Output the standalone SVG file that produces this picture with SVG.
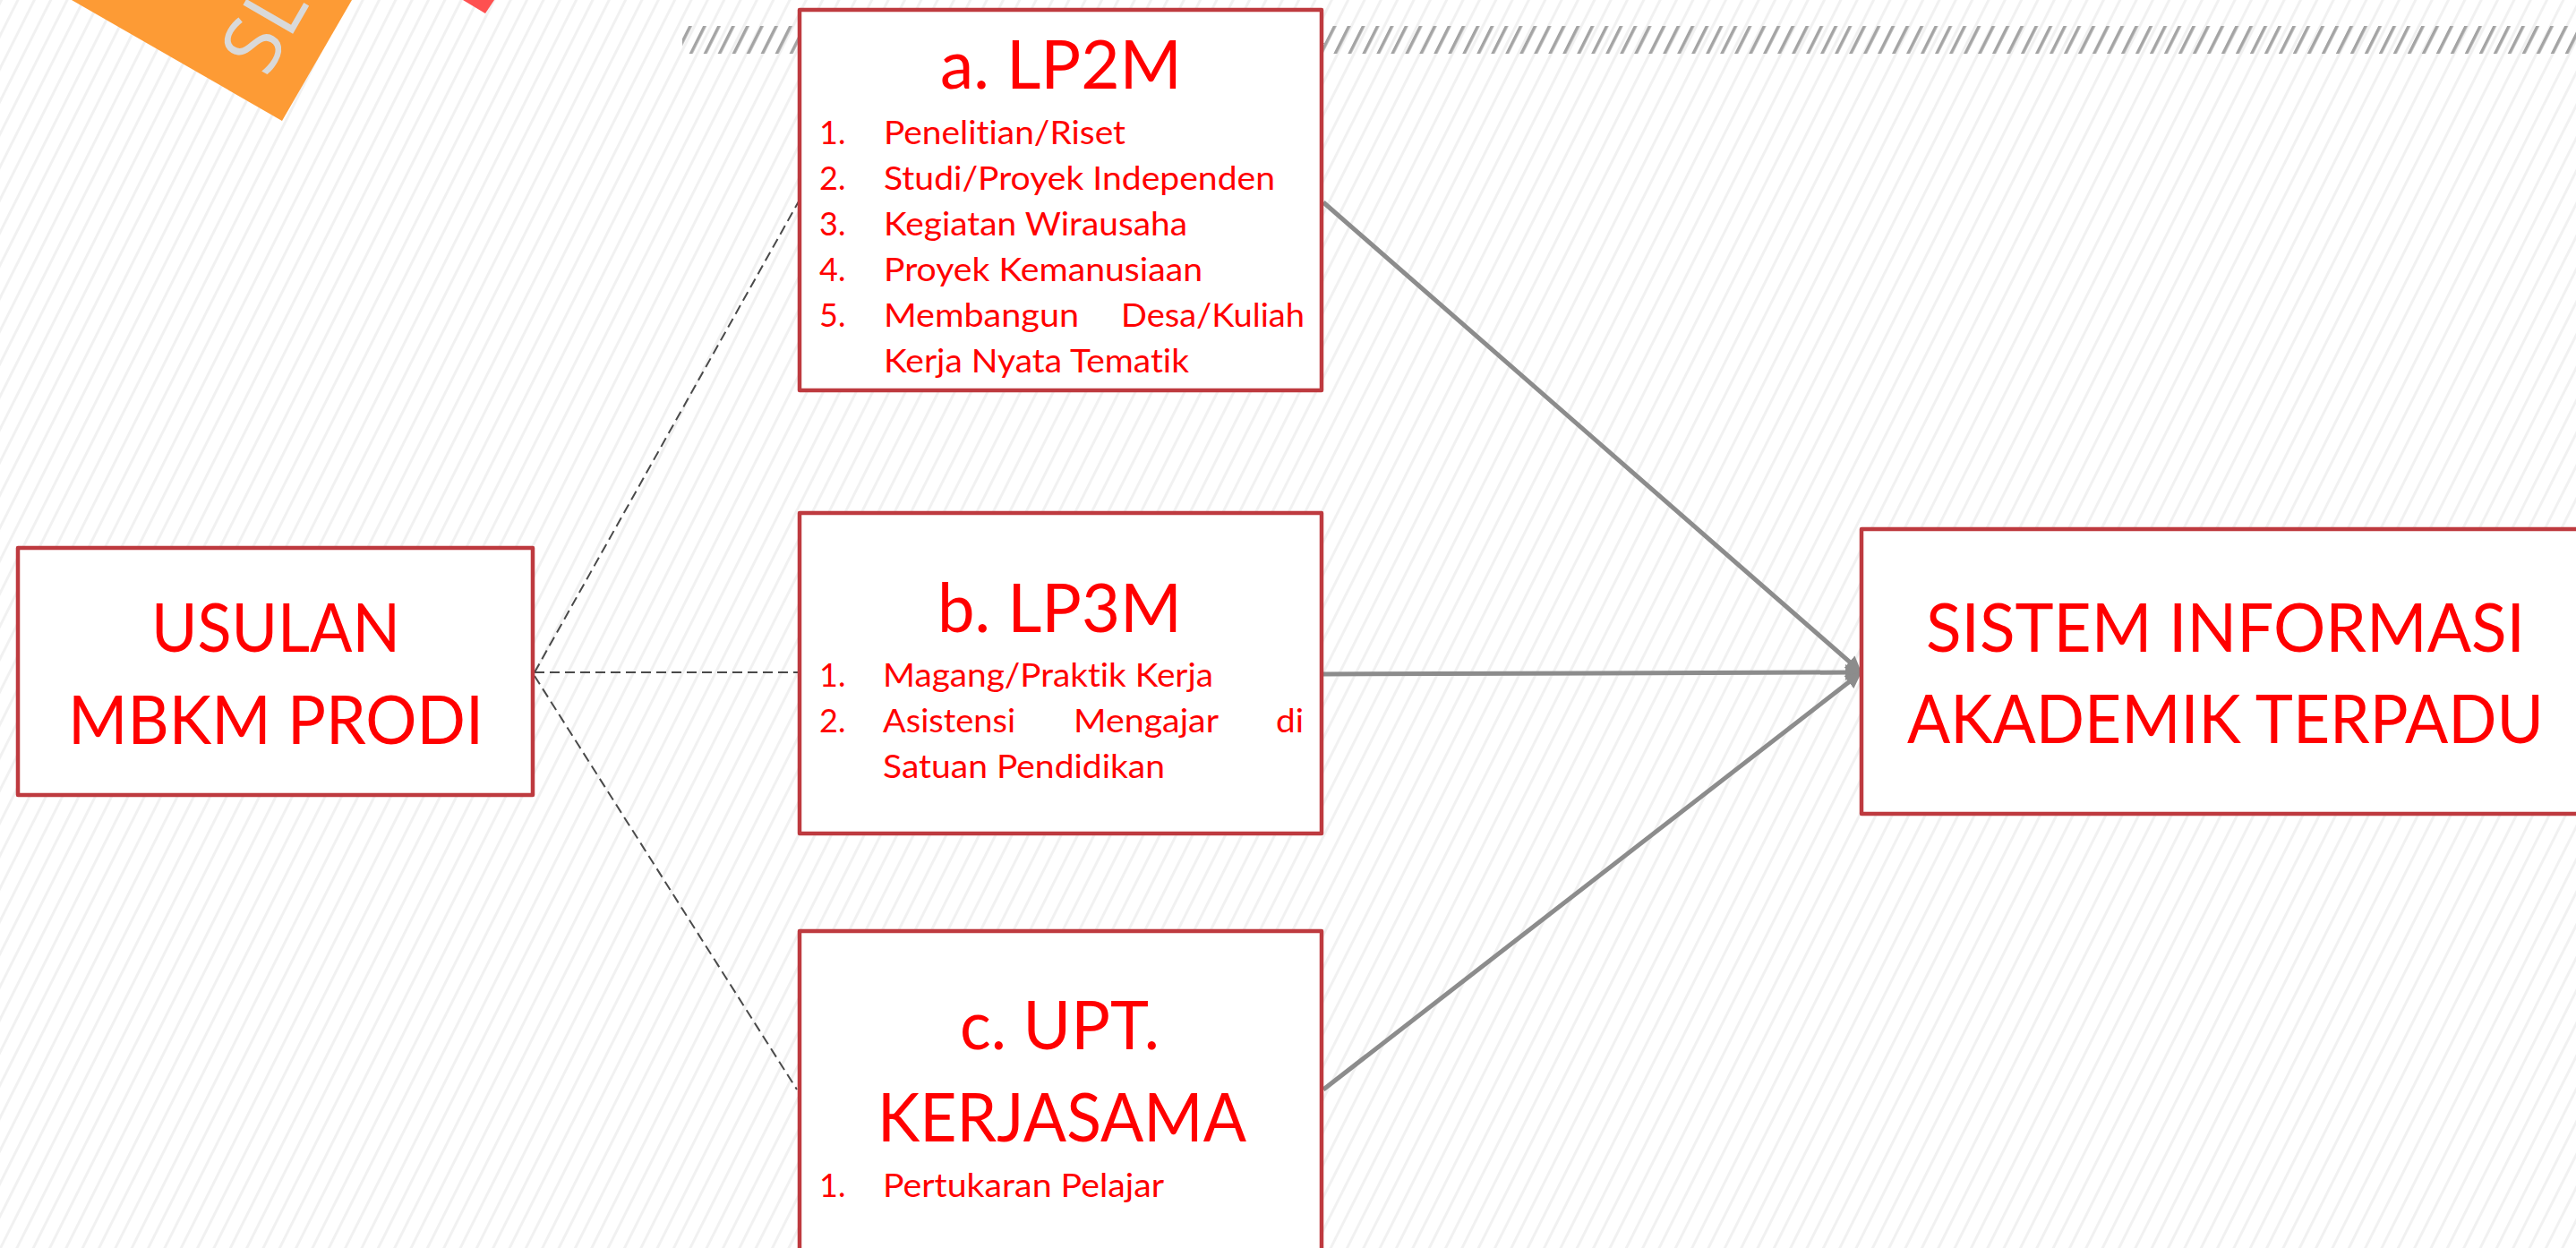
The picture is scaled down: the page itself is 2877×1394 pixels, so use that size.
<svg xmlns="http://www.w3.org/2000/svg" width="2877" height="1394" viewBox="0 0 2877 1394">
  <defs>
    <pattern id="bg" patternUnits="userSpaceOnUse" width="16.4" height="20" patternTransform="rotate(26.6)">
      <rect x="0" y="0" width="3" height="20" fill="#f1f1f1"/>
    </pattern>
    <pattern id="band" patternUnits="userSpaceOnUse" width="14.3" height="20" patternTransform="rotate(26.6)">
      <rect x="0" y="0" width="3.5" height="20" fill="#a4a4a4"/>
    </pattern>
    <marker id="arrow" viewBox="0 0 10 10" refX="4.4" refY="5" markerWidth="3.6" markerHeight="3.6" orient="auto">
      <path d="M0,0 L10,5 L0,10 Z" fill="#8c8c8c"/>
    </marker>
    <style>
      .box { fill: #ffffff; stroke: #be3a3f; stroke-width: 4.5; stroke-linejoin: round; }
      .t { font-family: Lato, "Liberation Sans", sans-serif; fill: #ff0000; font-variant-ligatures: none; font-feature-settings: "liga" 0, "clig" 0; }
      .big { font-size: 75px; }
      .item { font-size: 36px; }
      .dash { stroke: #4a4a4a; stroke-width: 2; stroke-dasharray: 11 6; fill: none; }
      .arr { stroke: #8c8c8c; stroke-width: 5; fill: none; marker-end: url(#arrow); }
    </style>
  </defs>

  <rect x="0" y="0" width="2877" height="1394" fill="#ffffff"/>
  <rect x="0" y="0" width="2877" height="1394" fill="url(#bg)"/>
  <rect x="762" y="29" width="2115" height="31" fill="url(#band)"/>

  <g id="decor">
    <polygon points="80,0 393,0 315,135" fill="#fd9b35"/>
    <text x="298" y="88" transform="rotate(-60 298 88)" font-family="'Open Sans', Lato, sans-serif" font-size="90" fill="#d9d9d9">SL</text>
    <polygon points="517,0 552,0 542,15" fill="#fe5050"/>
  </g>

  <g id="connectors">
    <line class="dash" x1="597" y1="751" x2="892" y2="225"/>
    <line class="dash" x1="597" y1="751" x2="891" y2="751"/>
    <line class="dash" x1="597" y1="755" x2="890" y2="1217"/>
    <line class="arr" x1="1478" y1="226" x2="2071.5" y2="744.4"/>
    <line class="arr" x1="1478" y1="753" x2="2069" y2="751"/>
    <line class="arr" x1="1478" y1="1217" x2="2071.1" y2="757.1"/>
  </g>

  <g id="usulan">
    <rect class="box" x="20" y="612" width="575" height="276"/>
    <text class="t big" x="169" y="728" textLength="278" lengthAdjust="spacingAndGlyphs">USULAN</text>
    <text class="t big" x="76" y="831" textLength="464" lengthAdjust="spacingAndGlyphs">MBKM PRODI</text>
  </g>

  <g id="lp2m">
    <rect class="box" x="893" y="11" width="583" height="425"/>
    <text class="t big" x="1050" y="99" textLength="270" lengthAdjust="spacingAndGlyphs">a. LP2M</text>
    <text class="t item" x="915" y="161">1.</text>
    <text class="t item" x="987" y="161" textLength="270" lengthAdjust="spacingAndGlyphs">Penelitian/Riset</text>
    <text class="t item" x="915" y="212">2.</text>
    <text class="t item" x="987" y="212" textLength="437" lengthAdjust="spacingAndGlyphs">Studi/Proyek Independen</text>
    <text class="t item" x="915" y="263">3.</text>
    <text class="t item" x="987" y="263" textLength="339" lengthAdjust="spacingAndGlyphs">Kegiatan Wirausaha</text>
    <text class="t item" x="915" y="314">4.</text>
    <text class="t item" x="987" y="314" textLength="356" lengthAdjust="spacingAndGlyphs">Proyek Kemanusiaan</text>
    <text class="t item" x="915" y="365">5.</text>
    <text class="t item" x="987" y="365" textLength="218" lengthAdjust="spacingAndGlyphs">Membangun</text>
    <text class="t item" x="1252" y="365" textLength="205" lengthAdjust="spacingAndGlyphs">Desa/Kuliah</text>
    <text class="t item" x="987" y="416" textLength="341" lengthAdjust="spacingAndGlyphs">Kerja Nyata Tematik</text>
  </g>

  <g id="lp3m">
    <rect class="box" x="893" y="573" width="583" height="358"/>
    <text class="t big" x="1047" y="706" textLength="273" lengthAdjust="spacingAndGlyphs">b. LP3M</text>
    <text class="t item" x="915" y="767">1.</text>
    <text class="t item" x="986" y="767" textLength="369" lengthAdjust="spacingAndGlyphs">Magang/Praktik Kerja</text>
    <text class="t item" x="915" y="818">2.</text>
    <text class="t item" x="986" y="818" textLength="148" lengthAdjust="spacingAndGlyphs">Asistensi</text>
    <text class="t item" x="1199" y="818" textLength="162" lengthAdjust="spacingAndGlyphs">Mengajar</text>
    <text class="t item" x="1425" y="818" textLength="31" lengthAdjust="spacingAndGlyphs">di</text>
    <text class="t item" x="986" y="869" textLength="315" lengthAdjust="spacingAndGlyphs">Satuan Pendidikan</text>
  </g>

  <g id="upt">
    <rect class="box" x="893" y="1040" width="583" height="420"/>
    <text class="t big" x="1072" y="1172" textLength="223" lengthAdjust="spacingAndGlyphs">c. UPT.</text>
    <text class="t big" x="980" y="1275" textLength="412" lengthAdjust="spacingAndGlyphs">KERJASAMA</text>
    <text class="t item" x="915" y="1337">1.</text>
    <text class="t item" x="986" y="1337" textLength="314" lengthAdjust="spacingAndGlyphs">Pertukaran Pelajar</text>
  </g>

  <g id="siakad">
    <rect class="box" x="2079" y="591" width="860" height="318"/>
    <text class="t big" x="2151" y="728" textLength="669" lengthAdjust="spacingAndGlyphs">SISTEM INFORMASI</text>
    <text class="t big" x="2130" y="830" textLength="711" lengthAdjust="spacingAndGlyphs">AKADEMIK TERPADU</text>
  </g>
</svg>
